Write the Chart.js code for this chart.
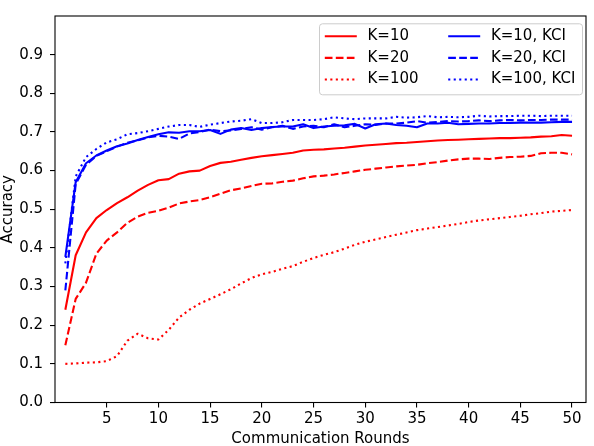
<!DOCTYPE html>
<html>
<head>
<meta charset="utf-8">
<script src="https://cdn.jsdelivr.net/npm/chart.js@4.4.0/dist/chart.umd.min.js"></script>
<style>
  html, body { margin: 0; padding: 0; background: #fff; }
  canvas { display: block; }
</style>
</head>
<body>
<canvas id="acc" width="594" height="446"></canvas>
<script>
const rounds = [1, 2, 3, 4, 5, 6, 7, 8, 9, 10, 11, 12, 13, 14, 15, 16, 17, 18, 19, 20,
    21, 22, 23, 24, 25, 26, 27, 28, 29, 30, 31, 32, 33, 34, 35, 36, 37, 38, 39, 40,
    41, 42, 43, 44, 45, 46, 47, 48, 49, 50];

const k10 = [0.240, 0.381, 0.440, 0.477, 0.498, 0.516, 0.531, 0.548, 0.563, 0.575,
    0.578, 0.592, 0.598, 0.600, 0.612, 0.620, 0.623, 0.628, 0.633, 0.637,
    0.640, 0.643, 0.646, 0.652, 0.654, 0.655, 0.657, 0.659, 0.662, 0.665,
    0.667, 0.669, 0.671, 0.672, 0.674, 0.676, 0.678, 0.679, 0.680, 0.681,
    0.682, 0.683, 0.684, 0.684, 0.685, 0.686, 0.688, 0.689, 0.692, 0.690];
const k20 = [0.148, 0.268, 0.310, 0.385, 0.419, 0.440, 0.465, 0.481, 0.491, 0.496,
    0.504, 0.515, 0.520, 0.524, 0.531, 0.540, 0.549, 0.554, 0.560, 0.566,
    0.567, 0.571, 0.574, 0.580, 0.585, 0.587, 0.590, 0.594, 0.598, 0.602,
    0.605, 0.608, 0.611, 0.613, 0.615, 0.619, 0.622, 0.626, 0.629, 0.631,
    0.631, 0.630, 0.633, 0.635, 0.636, 0.638, 0.645, 0.646, 0.646, 0.642];
const k100 = [0.100, 0.101, 0.103, 0.104, 0.107, 0.120, 0.160, 0.178, 0.166, 0.163,
    0.188, 0.220, 0.240, 0.256, 0.268, 0.280, 0.293, 0.308, 0.322, 0.332,
    0.338, 0.346, 0.353, 0.364, 0.374, 0.382, 0.389, 0.398, 0.408, 0.416,
    0.422, 0.428, 0.434, 0.440, 0.446, 0.450, 0.454, 0.458, 0.462, 0.467,
    0.471, 0.474, 0.477, 0.480, 0.483, 0.487, 0.490, 0.494, 0.496, 0.498];

const k10kci = [0.377, 0.570, 0.619, 0.639, 0.652, 0.663, 0.670, 0.679, 0.687, 0.694,
    0.699, 0.698, 0.702, 0.702, 0.705, 0.695, 0.706, 0.710, 0.705, 0.710,
    0.713, 0.714, 0.714, 0.720, 0.710, 0.714, 0.716, 0.717, 0.721, 0.709,
    0.720, 0.722, 0.718, 0.716, 0.712, 0.722, 0.722, 0.724, 0.720, 0.721,
    0.722, 0.722, 0.723, 0.723, 0.724, 0.724, 0.724, 0.725, 0.726, 0.726];
const k20kci = [0.290, 0.565, 0.615, 0.638, 0.650, 0.662, 0.672, 0.678, 0.686, 0.690,
    0.688, 0.682, 0.696, 0.700, 0.706, 0.702, 0.704, 0.708, 0.712, 0.706,
    0.712, 0.716, 0.708, 0.714, 0.716, 0.712, 0.720, 0.712, 0.716, 0.720,
    0.718, 0.722, 0.722, 0.724, 0.728, 0.724, 0.726, 0.728, 0.727, 0.728,
    0.730, 0.728, 0.730, 0.731, 0.730, 0.731, 0.731, 0.732, 0.732, 0.732];
const k100kci = [0.360, 0.585, 0.635, 0.656, 0.673, 0.681, 0.694, 0.697, 0.702, 0.708,
    0.714, 0.718, 0.718, 0.713, 0.719, 0.723, 0.727, 0.729, 0.733, 0.723,
    0.723, 0.725, 0.731, 0.731, 0.731, 0.733, 0.738, 0.735, 0.733, 0.735,
    0.735, 0.735, 0.739, 0.737, 0.738, 0.741, 0.738, 0.739, 0.738, 0.739,
    0.742, 0.740, 0.741, 0.741, 0.742, 0.742, 0.741, 0.742, 0.742, 0.742];

const xTicks = [5, 10, 15, 20, 25, 30, 35, 40, 45, 50];
const yTicks = [0.0, 0.1, 0.2, 0.3, 0.4, 0.5, 0.6, 0.7, 0.8, 0.9];

const FONT = { family: '"DejaVu Sans", sans-serif', size: 15 };
const LW = 2.1;
const DASHED = [7.7, 3.3];
const DOTTED = [2.1, 3.4];

function series(label, values, color, dash) {
    return {
        label: label,
        data: rounds.map((r, i) => ({ x: r, y: values[i] })),
        borderColor: color,
        backgroundColor: color,
        borderWidth: LW,
        borderDash: dash,
        borderCapStyle: 'butt',
        borderJoinStyle: 'round',
        pointRadius: 0,
        tension: 0,
        fill: false
    };
}

// box around the plot area, like the matplotlib spines
const frame = {
    id: 'frame',
    afterDatasetsDraw(chart) {
        const a = chart.chartArea, ctx = chart.ctx;
        ctx.save();
        ctx.strokeStyle = '#000';
        ctx.lineWidth = 1.1;
        ctx.strokeRect(a.left, a.top, a.right - a.left, a.bottom - a.top);
        ctx.restore();
    }
};

// two-column legend, filled column by column
const boxLegend = {
    id: 'boxLegend',
    afterDraw(chart) {
        const ctx = chart.ctx, a = chart.chartArea;
        const w = 263, h = 71, r = 3;
        const right = a.right - 3.5, top = a.top + 7.8;
        const left = right - w;
        ctx.save();
        ctx.beginPath();
        ctx.moveTo(left + r, top);
        ctx.lineTo(right - r, top);
        ctx.arcTo(right, top, right, top + r, r);
        ctx.lineTo(right, top + h - r);
        ctx.arcTo(right, top + h, right - r, top + h, r);
        ctx.lineTo(left + r, top + h);
        ctx.arcTo(left, top + h, left, top + h - r, r);
        ctx.lineTo(left, top + r);
        ctx.arcTo(left, top, left + r, top, r);
        ctx.closePath();
        ctx.fillStyle = 'rgba(255,255,255,0.8)';
        ctx.fill();
        ctx.strokeStyle = '#cccccc';
        ctx.lineWidth = 1;
        ctx.stroke();

        ctx.font = FONT.size + 'px ' + FONT.family;
        ctx.textBaseline = 'middle';
        ctx.textAlign = 'left';
        chart.data.datasets.forEach((ds, i) => {
            const col = Math.floor(i / 3), row = i % 3;
            const x0 = left + 5.3 + col * 123.4;
            const y = top + 12.4 + row * 21.65;
            ctx.beginPath();
            ctx.setLineDash(ds.borderDash || []);
            ctx.lineCap = 'butt';
            ctx.strokeStyle = ds.borderColor;
            ctx.lineWidth = ds.borderWidth;
            ctx.moveTo(x0, y);
            ctx.lineTo(x0 + 32, y);
            ctx.stroke();
            ctx.setLineDash([]);
            ctx.fillStyle = '#000';
            ctx.fillText(ds.label, x0 + 42.7, y);
        });
        ctx.restore();
    }
};

new Chart(document.getElementById('acc'), {
    type: 'line',
    data: {
        datasets: [
            series('K=10', k10, 'rgb(255, 0, 0)', []),
            series('K=20', k20, 'rgb(255, 0, 0)', DASHED),
            series('K=100', k100, 'rgb(255, 0, 0)', DOTTED),
            series('K=10, KCI', k10kci, 'rgb(0, 0, 255)', []),
            series('K=20, KCI', k20kci, 'rgb(0, 0, 255)', DASHED),
            series('K=100, KCI', k100kci, 'rgb(0, 0, 255)', DOTTED)
        ]
    },
    options: {
        responsive: false,
        animation: false,
        devicePixelRatio: 1,
        layout: { padding: { top: 1.7, right: 8, left: 0, bottom: 0 } },
        plugins: {
            legend: { display: false },
            tooltip: { enabled: false }
        },
        scales: {
            x: {
                type: 'linear',
                min: 0,
                max: 51.35,
                afterBuildTicks: (scale) => { scale.ticks = xTicks.map(v => ({ value: v })); },
                afterFit: (scale) => { scale.height = 43.5; },
                border: { display: false },
                grid: { drawOnChartArea: false, drawTicks: true, tickLength: 5, color: '#000', lineWidth: 1.1 },
                ticks: { color: '#000', font: FONT, padding: 3, maxRotation: 0, autoSkip: false },
                title: { display: true, text: 'Communication Rounds', color: '#000', font: FONT, padding: { top: 0, bottom: -2 } }
            },
            y: {
                min: 0,
                max: 1.0,
                afterBuildTicks: (scale) => { scale.ticks = yTicks.map(v => ({ value: v })); },
                afterFit: (scale) => { scale.width = 55; },
                border: { display: false },
                grid: { drawOnChartArea: false, drawTicks: true, tickLength: 5, color: '#000', lineWidth: 1.1 },
                ticks: { color: '#000', font: FONT, padding: 7, callback: (v) => Number(v).toFixed(1) },
                title: { display: true, text: 'Accuracy', color: '#000', font: FONT, padding: { top: -1, bottom: 0 } }
            }
        }
    },
    plugins: [frame, boxLegend]
});
</script>
</body>
</html>
